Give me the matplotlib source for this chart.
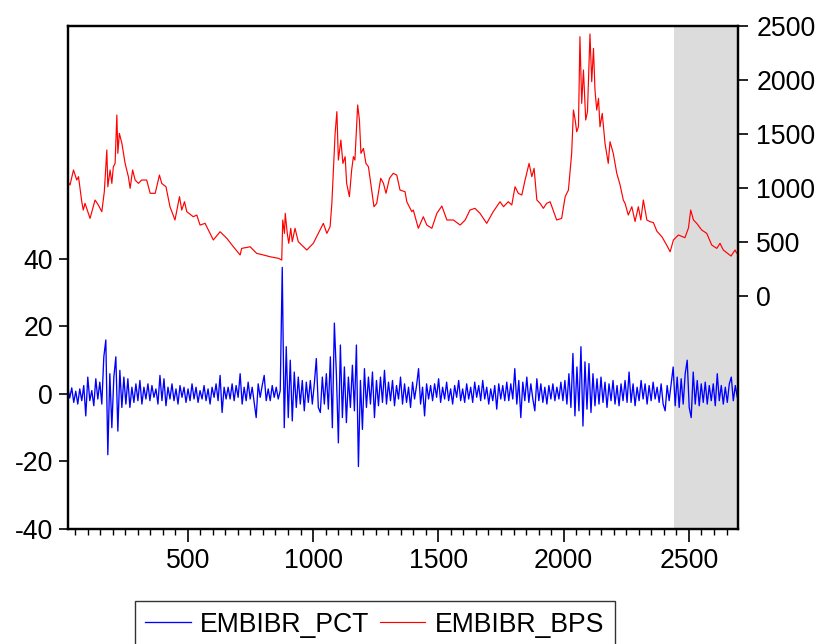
import numpy as np
import matplotlib
matplotlib.use("Agg")
import matplotlib.pyplot as plt
from matplotlib.ticker import MultipleLocator

plt.rcParams['font.family'] = ['Liberation Sans', 'DejaVu Sans']
plt.rcParams['axes.unicode_minus'] = False

# EMBIBR_PCT, one value every 8 observations starting at obs 21
pct_start = 21
pct_step = 8
pct = [
    2.0, -1.2, 1.8, -2.5, 0.8, -3.0, 1.5, -2.0, 2.5, -6.5, 5.0, -2.0, 1.0, -3.5, 4.5, -1.5, 3.5, -3.0, 11.0, 16.0,
    -18.0, 6.0, -10.0, 5.0, 11.0, -11.0, 7.0, -4.0, 5.0, -3.0, 4.5, -4.0, 2.0, -2.5, 3.0, -2.0, 4.0, -3.0, 2.0, -1.5,
    3.0, -2.0, 2.5, -1.0, 1.5, -3.0, 5.5, -2.0, 4.5, -3.5, 2.0, -1.5, 3.0, -2.0, 1.5, -3.0, 2.5, -1.0, 2.0, -2.5,
    1.5, -2.0, 3.0, -1.5, 2.0, -2.5, 1.0, -1.5, 2.5, -2.0, 1.5, -3.0, 2.0, -1.0, 3.0, -2.0, 5.5, -5.5, 2.0, -1.5,
    2.0, -1.5, 3.0, -2.0, 2.5, -1.0, 6.0, -3.0, 2.0, -2.0, 3.5, -1.5, 2.0, -2.5, -7.0, 3.0, -1.0, 2.5, 5.5, -2.0,
    1.5, -2.0, 2.5, -1.0, 2.0, -1.5, 1.0, 37.5, -10.0, 14.0, -7.0, 10.0, -8.0, 6.5, -4.0, 5.0, -3.0, 4.0, -5.0, 3.5,
    -2.5, 4.0, -3.0, 3.0, 10.5, -4.0, -5.5, 5.0, -3.0, 6.0, -4.5, 11.0, -10.0, 21.0, 6.0, -14.5, 14.5, -7.0, 8.0, -8.5,
    5.0, -4.0, 8.5, -5.0, 14.5, -21.5, 4.0, -10.5, 7.5, -4.0, 5.0, -3.0, 6.5, -7.0, 4.0, -3.5, 5.0, -2.5, 7.0, -3.0,
    3.5, -2.0, 4.0, -3.5, 2.5, -1.5, 5.0, -3.0, 3.0, -2.5, 2.0, -4.0, 3.5, -1.5, 2.5, 7.5, -3.0, 2.0, -6.5, 3.0,
    -1.5, 2.5, -2.0, 3.0, -1.0, 4.5, -2.5, 2.0, -1.5, 3.5, -2.0, 1.5, -3.0, 2.5, -1.0, 4.0, -2.0, 1.5, -2.5, 3.0,
    -1.5, 2.0, -2.5, 3.5, -1.0, 2.5, -2.0, 4.0, -1.5, 2.0, -3.0, 1.5, -2.0, 2.5, -4.5, 3.0, -1.5, 2.5, -2.0, 3.5,
    -2.0, 3.0, -1.5, 7.5, -3.0, 4.0, -7.0, 3.5, -2.0, 5.0, -2.5, 3.0, -1.5, -5.0, 4.5, -2.0, 3.0, -2.5, 2.0, -3.0,
    2.5, -1.5, 3.0, -2.0, 2.0, -1.5, 3.5, -2.0, 4.0, -3.0, 6.0, -4.0, 12.0, -6.5, 8.0, -5.0, 14.0, -9.5, 9.5, -4.5,
    9.0, -5.5, 6.0, -3.5, 4.5, -3.0, 5.0, -2.5, 3.5, -4.0, 3.0, -2.0, 4.0, -3.0, 2.5, -3.5, 3.0, -2.0, 4.0, -2.5,
    6.5, -2.5, 3.0, -3.5, 2.0, -2.0, 4.0, -1.5, 3.0, -3.0, 2.5, -2.0, 3.5, -1.5, 2.0, -2.5, 3.0, -3.0, -5.0, 2.5,
    -2.0, 3.0, 8.0, -3.5, 5.0, -4.0, 4.5, -3.0, 6.0, 10.0, -4.0, -7.0, 6.5, -3.0, 4.0, -3.5, 3.0, -2.5, 3.5, -3.0,
    2.5, -2.0, 3.0, -3.5, 6.0, -2.0, 2.5, -3.0, 2.0, -2.5, 3.0, 5.0, -2.0, 2.5, -1.0,
]

# EMBIBR_BPS, read at irregular observations
bps_obs = [
    21, 30, 44, 57, 64, 77, 83, 90, 110, 130, 143, 157, 167, 177, 181, 190, 197, 203, 210, 217,
    221, 227, 237, 250, 263, 270, 280, 290, 303, 316, 336, 350, 370, 387, 396, 413, 429, 449, 467, 476,
    487, 496, 522, 536, 549, 569, 589, 602, 629, 656, 682, 709, 715, 749, 762, 775, 802, 828, 862, 875,
    879, 886, 889, 897, 903, 911, 917, 928, 941, 975, 1001, 1021, 1041, 1055, 1068, 1075, 1081, 1088, 1095, 1101,
    1111, 1119, 1128, 1134, 1145, 1154, 1161, 1167, 1178, 1185, 1191, 1201, 1211, 1221, 1234, 1243, 1254, 1270, 1281, 1291,
    1305, 1320, 1334, 1347, 1367, 1374, 1394, 1400, 1420, 1440, 1454, 1474, 1494, 1514, 1534, 1560, 1587, 1607, 1626, 1646,
    1666, 1693, 1719, 1746, 1760, 1779, 1793, 1806, 1819, 1833, 1846, 1862, 1873, 1882, 1893, 1906, 1919, 1932, 1946, 1972,
    1992, 2006, 2019, 2032, 2039, 2046, 2052, 2059, 2065, 2072, 2079, 2088, 2095, 2101, 2105, 2112, 2119, 2125, 2132, 2139,
    2145, 2154, 2165, 2178, 2185, 2198, 2212, 2225, 2238, 2245, 2258, 2272, 2285, 2298, 2308, 2318, 2332, 2345, 2358, 2372,
    2392, 2411, 2425, 2438, 2458, 2484, 2498, 2507, 2518, 2531, 2551, 2571, 2591, 2611, 2624, 2637, 2668, 2684, 2691, 2697,
]
bps = [
    1060, 1028, 1167, 1074, 1105, 873, 796, 858, 719, 889, 843, 781, 966, 1352, 1012, 1167, 1043, 1197, 1228, 1676,
    1321, 1506, 1414, 1228, 1105, 997, 1167, 1074, 1043, 1074, 1074, 951, 951, 1120, 1043, 1012, 827, 704, 920, 796,
    873, 781, 734, 750, 657, 673, 580, 519, 595, 534, 456, 380, 441, 456, 426, 395, 380, 364, 349, 333,
    704, 580, 766, 580, 488, 627, 503, 627, 503, 426, 488, 580, 673, 580, 642, 858, 1167, 1506, 1707, 1259,
    1444, 1228, 1290, 1043, 920, 1167, 1290, 1259, 1769, 1630, 1321, 1367, 1228, 1197, 981, 827, 858, 1090, 1043, 951,
    1090, 1136, 1120, 981, 966, 873, 781, 796, 627, 734, 657, 627, 766, 833, 704, 704, 657, 704, 796, 812,
    766, 673, 781, 873, 827, 873, 843, 1012, 951, 935, 1074, 1228, 1105, 1182, 889, 858, 812, 858, 873, 704,
    719, 920, 981, 1321, 1722, 1630, 1521, 1567, 2401, 1784, 2093, 1630, 1707, 2124, 2426, 1984, 2293, 1907, 1722, 1830,
    1567, 1691, 1414, 1228, 1429, 1321, 1136, 1030, 889, 858, 750, 827, 690, 827, 704, 889, 704, 688, 680, 600,
    549, 472, 410, 519, 565, 540, 630, 796, 704, 673, 611, 580, 472, 441, 488, 426, 370, 426, 395, 410,
]

shade_start = 2440
x_min, x_max = 21, 2697

pct_obs = pct_start + pct_step * np.arange(len(pct))

fig = plt.figure(figsize=(8.22, 6.44), dpi=100)
ax = fig.add_axes([0.0824, 0.1786, 0.8158, 0.781])
ax2 = ax.twinx()

ax.axvspan(shade_start, x_max, color='#dcdcdc', lw=0, zorder=0)
l1, = ax.plot(pct_obs, pct, color='#0000ff', lw=0.95, label='EMBIBR_PCT')
l2, = ax2.plot(bps_obs, bps, color='#ff0000', lw=0.85, label='EMBIBR_BPS')

ax.set_xlim(x_min, x_max)
ax.set_ylim(-40, 109)
ax2.set_ylim(-2157, 2500)

ax.set_yticks([-40, -20, 0, 20, 40])
ax2.set_yticks([0, 500, 1000, 1500, 2000, 2500])
ax.set_xticks([500, 1000, 1500, 2000, 2500])
ax.xaxis.set_minor_locator(MultipleLocator(50))

fs = 19.2
ax.tick_params(axis='y', labelsize=fs, length=6.5, width=1.2, pad=4, direction='out')
ax2.tick_params(axis='y', labelsize=fs, length=7, width=1.2, pad=6, direction='out')
ax.tick_params(axis='x', which='major', labelsize=fs, length=9, width=1.2, pad=5, direction='out')
ax.tick_params(axis='x', which='minor', length=4.5, width=1.0, direction='out')

for a in (ax, ax2):
    for s in a.spines.values():
        s.set_linewidth(1.6)
        s.set_color('black')

leg = fig.legend(handles=[l1, l2], loc='upper center', bbox_to_anchor=(0.456, 0.0668),
                 ncol=2, fontsize=fs, frameon=True, fancybox=False, edgecolor='black',
                 handlelength=1.7, handletextpad=0.35, columnspacing=0.4,
                 borderpad=0.4, borderaxespad=0)
leg.get_frame().set_linewidth(1.0)

fig.savefig('out.png', dpi=100)
